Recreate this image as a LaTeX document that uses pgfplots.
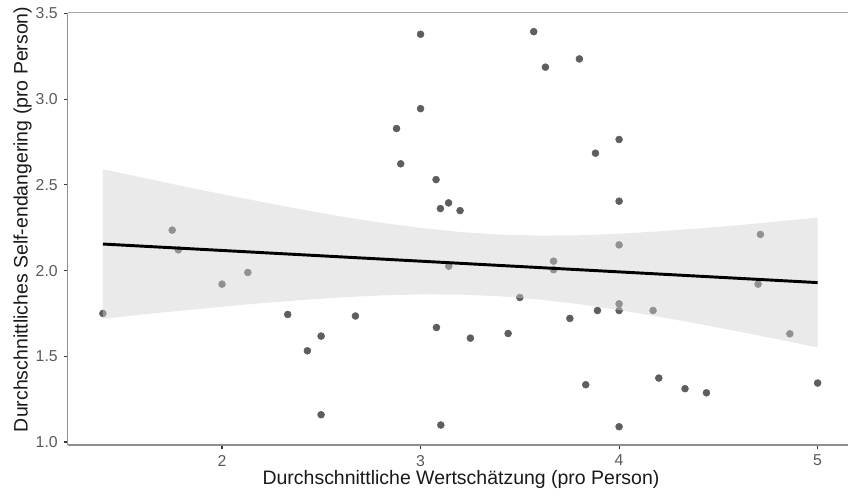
\documentclass[border=0pt]{standalone}
\usepackage{pgfplots}
\pgfplotsset{compat=1.18}
\usepackage{fontspec}
\setmainfont{Liberation Sans}
\definecolor{ptcol}{HTML}{5E5E5E}
\definecolor{axcol}{HTML}{8F8F8F}
\definecolor{topcol}{HTML}{ABABAB}
\definecolor{tickcol}{HTML}{3A3A3A}
\definecolor{tlcol}{HTML}{5A5A5A}
\definecolor{bandcol}{rgb}{0.82,0.82,0.82}

\pgfplotstableread{
x y
1.40 1.750
1.749 2.236
1.78 2.121
2.00 1.921
2.13 1.989
2.331 1.744
2.43 1.532
2.499 1.618
2.499 1.159
2.672 1.735
2.879 2.829
2.900 2.623
3.000 3.379
3.000 2.945
3.078 2.531
3.080 1.668
3.10 2.362
3.102 1.099
3.141 2.395
3.142 2.026
3.199 2.350
3.251 1.606
3.441 1.633
3.50 1.843
3.570 3.394
3.629 3.187
3.670 2.055
3.670 2.005
3.752 1.721
3.800 3.235
3.832 1.334
3.881 2.685
3.891 1.767
4.00 2.765
4.00 2.405
4.00 2.150
4.00 1.806
4.00 1.767
4.00 1.089
4.171 1.767
4.200 1.373
4.332 1.311
4.440 1.287
4.70 1.921
4.712 2.211
4.860 1.631
5.00 1.344
}\points

% confidence band outline: upper edge left to right, then lower edge right to left
\pgfplotstableread{
x y
1.4 2.591
1.6 2.542
1.8 2.493
2.0 2.446
2.2 2.401
2.4 2.357
2.6 2.316
2.8 2.280
3.0 2.249
3.2 2.225
3.4 2.210
3.6 2.204
3.8 2.206
4.0 2.215
4.2 2.229
4.4 2.246
4.6 2.265
4.8 2.287
5.0 2.309
5.0 1.551
4.8 1.599
4.6 1.645
4.4 1.689
4.2 1.731
4.0 1.770
3.8 1.804
3.6 1.831
3.4 1.850
3.2 1.860
3.0 1.861
2.8 1.855
2.6 1.844
2.4 1.828
2.2 1.810
2.0 1.789
1.8 1.767
1.6 1.744
1.4 1.719
}\band

\pgfplotstableread{
x y
1.4 2.155
5.0 1.930
}\fit

\begin{document}
\begin{tikzpicture}
\begin{axis}[
  set layers,
  scale only axis,
  width=585pt, height=324.2pt,
  xmin=1.223, xmax=5.153,
  ymin=0.982, ymax=3.505,
  axis x line=bottom, axis y line=left,
  axis line style={-, color=axcol, line width=1.1pt},
  tick align=outside,
  major tick length=3pt,
  tick style={color=tickcol, line width=0.8pt},
  xtick={2,3,4,5},
  ytick={1.0,1.5,2.0,2.5,3.0,3.5},
  /pgf/number format/assume math mode=true,
  yticklabel style={/pgf/number format/fixed, /pgf/number format/fixed zerofill, /pgf/number format/precision=1, anchor=east, xshift=-1pt},
  ticklabel style={font=\fontsize{11.85pt}{14pt}\selectfont, color=tlcol},
  xticklabel style={anchor=north, yshift=-1pt},
  xlabel={Durchschnittliche Wertschätzung (pro Person)},
  ylabel={Durchschnittliches Self-endangering (pro Person)},
  every axis x label/.style={at={(rel axis cs:0.504,-0.0912)}, anchor=base, font=\fontsize{14.6pt}{17pt}\selectfont, text=black!90},
  every axis y label/.style={at={(rel axis cs:-0.0513,0.522)}, rotate=90, anchor=base, font=\fontsize{14.6pt}{17pt}\selectfont, text=black!90},
  clip=false,
]
\addplot[only marks, mark=*, mark size=2.6pt, color=ptcol, mark options={draw=ptcol, fill=ptcol}] table[x=x, y=y] {\points};
\addplot[on layer=axis foreground, fill=bandcol, fill opacity=0.45, draw=none] table[x=x, y=y] {\band} -- cycle;
\addplot[on layer=axis foreground, black, line width=2.2pt] table[x=x, y=y] {\fit};
\draw[topcol, line width=1.1pt] (rel axis cs:0,1) -- (rel axis cs:1,1);
\coordinate (SW) at (rel axis cs:0,0);
\coordinate (NE) at (rel axis cs:1,1);
\end{axis}
\pgfresetboundingbox
\path ([shift={(-50.8pt,-36.75pt)}]SW) rectangle ([shift={(0pt,9.5pt)}]NE);
\end{tikzpicture}
\end{document}
